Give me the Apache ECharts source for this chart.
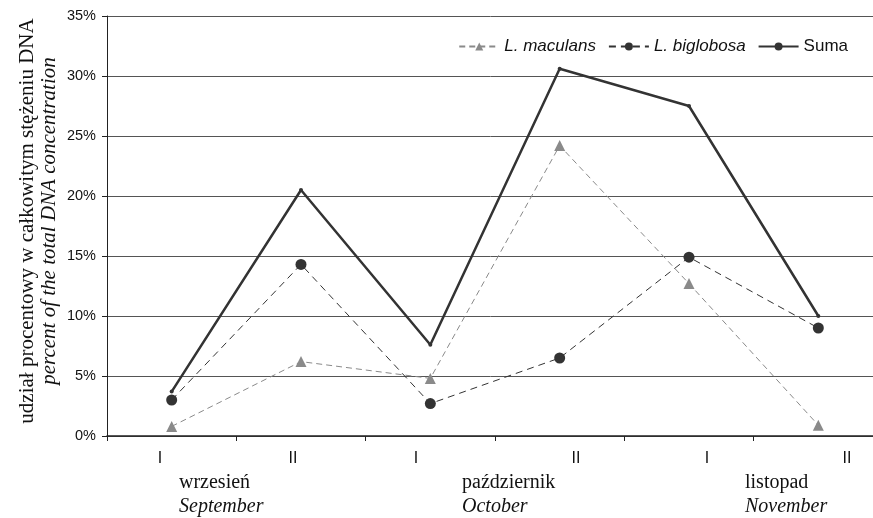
<!DOCTYPE html>
<html><head><meta charset="utf-8">
<script src="https://cdn.jsdelivr.net/npm/echarts@6/dist/echarts.min.js"></script>
<style>html,body{margin:0;padding:0;background:#fff}#c{width:873px;height:518px}</style>
</head><body><div id="c"></div>
<script>
const categories = ['IX-I', 'IX-II', 'X-I', 'X-II', 'XI-I', 'XI-II'];
const maculans = [0.8, 6.2, 4.8, 24.2, 12.7, 0.9];
const biglobosa = [3.0, 14.3, 2.7, 6.5, 14.9, 9.0];
const suma = [3.7, 20.5, 7.6, 30.6, 27.5, 10.0];
const periodLabels = ['I', 'II', 'I', 'II', 'I', 'II'];
const monthsPL = ['wrzesień', 'październik', 'listopad'];
const monthsEN = ['September', 'October', 'November'];
const seriesNames = ['L. maculans', 'L. biglobosa', 'Suma'];
const yTitlePL = 'udział procentowy w całkowitym stężeniu DNA';
const yTitleEN = 'percent of the total DNA concentration';

const periodX = [160, 293, 416, 576, 707, 847];
const monthX = [179, 462, 745];

const chart = echarts.init(document.getElementById('c'));
const graphics = [];
periodLabels.forEach((t, i) => graphics.push({
  type: 'text', x: periodX[i], y: 459,
  style: { text: t, fontFamily: 'Liberation Sans', fontSize: 16, fill: '#111', align: 'center', verticalAlign: 'middle' }
}));
monthsPL.forEach((t, i) => graphics.push({
  type: 'text', x: monthX[i], y: 483,
  style: { text: t, fontFamily: 'Liberation Serif', fontSize: 20, fill: '#111', align: 'left', verticalAlign: 'middle' }
}));
monthsEN.forEach((t, i) => graphics.push({
  type: 'text', x: monthX[i], y: 507,
  style: { text: t, fontFamily: 'Liberation Serif', fontStyle: 'italic', fontSize: 20, fill: '#111', align: 'left', verticalAlign: 'middle' }
}));
graphics.push({
  type: 'text', x: 38, y: 221, rotation: Math.PI / 2,
  style: {
    text: '{a|' + yTitlePL + '}\n{b|' + yTitleEN + '}',
    align: 'center', verticalAlign: 'middle', fill: '#111',
    rich: {
      a: { fontFamily: 'Liberation Serif', fontSize: 21, lineHeight: 22, fill: '#111', align: 'center' },
      b: { fontFamily: 'Liberation Serif', fontStyle: 'italic', fontSize: 21, lineHeight: 22, fill: '#111', align: 'center' }
    }
  }
});

chart.setOption({
  animation: false,
  backgroundColor: '#fff',
  grid: { left: 107, top: 16, width: 776, height: 420, containLabel: false, outerBoundsMode: 'none' },
  legend: {
    data: seriesNames,
    right: 20, top: 33,
    itemWidth: 40, itemHeight: 10, itemGap: 12,
    textStyle: { fontFamily: 'Liberation Sans', fontSize: 17, color: '#111', rich: { i: { fontFamily: 'Liberation Sans', fontSize: 17, fontStyle: 'italic', color: '#111' } } },
    formatter: n => n === 'Suma' ? n : '{i|' + n + '}'
  },
  xAxis: {
    type: 'category', data: categories, boundaryGap: true,
    axisLine: { lineStyle: { color: '#222', width: 1.5 } },
    axisTick: { show: true, length: 5, inside: false, lineStyle: { color: '#222', width: 1 } },
    axisLabel: { show: false },
    splitLine: { show: false }
  },
  yAxis: {
    type: 'value', min: 0, max: 35, interval: 5,
    axisLine: { show: true, lineStyle: { color: '#222', width: 1 } },
    axisTick: { show: true, length: 5, lineStyle: { color: '#222' } },
    axisLabel: { formatter: '{value}%', fontFamily: 'Liberation Sans', fontSize: 14.5, color: '#111', margin: 11 },
    splitLine: { show: true, lineStyle: { color: '#555', width: 1 } }
  },
  series: [
    { name: seriesNames[0], type: 'line', data: maculans, symbol: 'triangle', symbolSize: 11,
      itemStyle: { color: '#8a8a8a' }, lineStyle: { color: '#8a8a8a', width: 1, type: [6, 4] }, z: 3 },
    { name: seriesNames[1], type: 'line', data: biglobosa, symbol: 'circle', symbolSize: 11,
      itemStyle: { color: '#333' }, lineStyle: { color: '#333', width: 1, type: [7, 5] }, z: 4 },
    { name: seriesNames[2], type: 'line', data: suma, symbol: 'circle', symbolSize: 4,
      itemStyle: { color: '#333' }, lineStyle: { color: '#333', width: 2.5 }, z: 5 }
  ],
  graphic: graphics
});
</script></body></html>
